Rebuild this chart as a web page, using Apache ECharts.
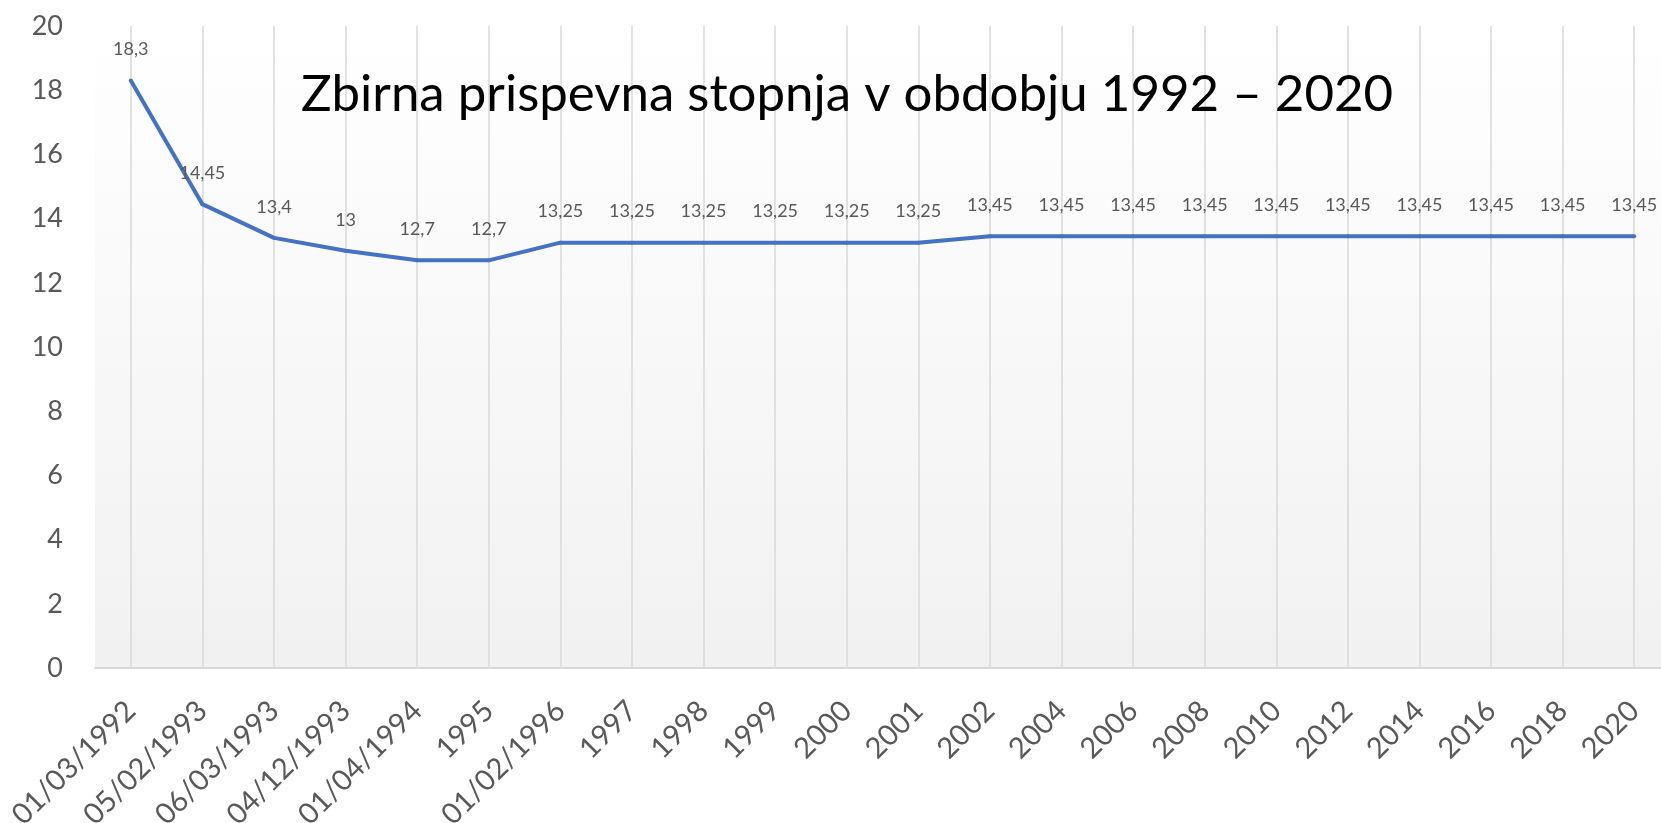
<!DOCTYPE html>
<html lang="sl">
<head>
  <meta charset="UTF-8">
  <title>Zbirna prispevna stopnja</title>
  <style>
    * {
      margin: 0;
      padding: 0;
    }

    html, body {
      background: #fff;
    }

    #chart {
      width: 1661px;
      height: 823px;
    }
  </style>
</head>
<body>
  <div id="chart"></div>

  <script src="https://cdn.jsdelivr.net/npm/echarts@6/dist/echarts.min.js"></script>
  <script>
    // obdobja (x os)
    const periods = [
      '01/03/1992', '05/02/1993', '06/03/1993', '04/12/1993', '01/04/1994', '1995',
      '01/02/1996', '1997', '1998', '1999', '2000', '2001',
      '2002', '2004', '2006', '2008', '2010', '2012', '2014', '2016', '2018', '2020'
    ];

    // zbirna prispevna stopnja v %
    const rates = [
      18.3, 14.45, 13.4, 13, 12.7, 12.7,
      13.25, 13.25, 13.25, 13.25, 13.25, 13.25,
      13.45, 13.45, 13.45, 13.45, 13.45, 13.45, 13.45, 13.45, 13.45, 13.45
    ];

    const yTicks = { min: 0, max: 20, step: 2 };

    const chart = echarts.init(document.getElementById('chart'));

    const font = 'Lato, "Noto Sans", sans-serif';
    const grey = '#595959';
    const lineGrey = '#D9D9D9';

    chart.setOption({
      animation: false,
      backgroundColor: '#ffffff',
      title: {
        text: 'Zbirna prispevna stopnja v obdobju 1992 – 2020',
        left: 296,
        top: 64,
        textStyle: {
          fontFamily: font,
          fontSize: 51,
          fontWeight: 'normal',
          color: '#000000'
        }
      },
      // the plot runs a little past the right edge, as in the original
      grid: {
        left: 95,
        width: 1575,
        top: 26,
        bottom: 155,
        outerBoundsMode: 'none',
        containLabel: false,
        show: true,
        borderWidth: 0,
        backgroundColor: {
          type: 'linear',
          x: 0, y: 0, x2: 0, y2: 1,
          colorStops: [
            { offset: 0, color: '#ffffff' },
            { offset: 1, color: '#f1f1f1' }
          ]
        }
      },
      xAxis: {
        type: 'category',
        data: periods,
        boundaryGap: true,
        axisLine: {
          show: true,
          lineStyle: { color: lineGrey, width: 2 }
        },
        axisTick: { show: false },
        splitLine: {
          show: true,
          interval: 0,
          alignWithLabel: true,
          lineStyle: { color: lineGrey, width: 1.5 }
        },
        axisLabel: {
          interval: 0,
          rotate: 45,
          margin: 38,
          color: grey,
          fontFamily: font,
          fontSize: 29
        }
      },
      yAxis: {
        type: 'value',
        min: yTicks.min,
        max: yTicks.max,
        interval: yTicks.step,
        axisLine: { show: false },
        axisTick: { show: false },
        splitLine: { show: false },
        axisLabel: {
          margin: 32,
          color: grey,
          fontFamily: font,
          fontSize: 27
        }
      },
      series: [
        {
          type: 'line',
          data: rates,
          symbol: 'circle',
          symbolSize: 4,
          itemStyle: { color: '#4472C4' },
          lineStyle: { color: '#4472C4', width: 4 },
          label: {
            show: true,
            position: 'top',
            distance: 20,
            color: grey,
            fontFamily: font,
            fontSize: 18,
            formatter: p => String(p.value).replace('.', ',')
          }
        }
      ]
    });
  </script>
</body>
</html>
